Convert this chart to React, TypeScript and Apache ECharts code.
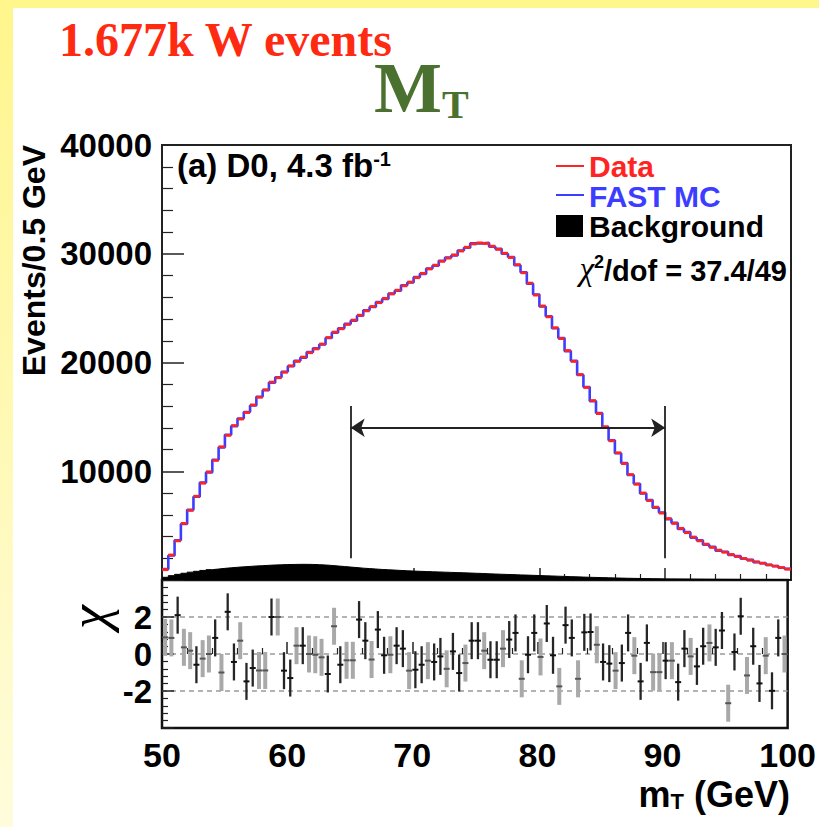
import React, { useEffect, useRef } from "react";
import * as echarts from "echarts";

// ---------- data ----------
const MASS_MIN = 50;
const MASS_MAX = 100;
const BIN_WIDTH = 0.5;

const xTickValues = [50, 60, 70, 80, 90, 100];
const eventsTickLabels = [10000, 20000, 30000, 40000];
const chiTickLabels = [-2, 0, 2];

// Data (red), events per 0.5 GeV bin, 50 -> 100 GeV
const dataCounts = [
  950, 2300, 3600, 5200, 6400, 7700, 8900, 9950, 11000, 12250,
  13300, 14200, 14800, 15400, 16100, 16800, 17500, 18200, 18600, 19100,
  19700, 20100, 20500, 20900, 21250, 21700, 22300, 22800, 23100, 23500,
  23900, 24350, 24750, 25150, 25500, 25900, 26300, 26650, 27050, 27400,
  27800, 28200, 28600, 28950, 29300, 29600, 29900, 30250, 30600, 30900,
  31000, 30950, 30700, 30400, 30050, 29650, 29000, 28250, 27300, 26200,
  25200, 24200, 23200, 22200, 21100, 20100, 18900, 17700, 16500, 15300,
  14100, 12800, 11700, 10700, 9700, 8800, 8000, 7300, 6700, 6150,
  5650, 5200, 4750, 4350, 3950, 3600, 3300, 3000, 2750, 2550,
  2350, 2150, 1980, 1820, 1670, 1530, 1400, 1270, 1150, 1000,
];

// FAST MC (blue)
const fastMcCounts = [
  1000, 2250, 3650, 5150, 6450, 7650, 8950, 9900, 11050, 12200,
  13350, 14150, 14850, 15450, 16050, 16850, 17450, 18150, 18650, 19150,
  19650, 20150, 20450, 20950, 21300, 21650, 22250, 22750, 23150, 23550,
  23850, 24300, 24800, 25100, 25550, 25850, 26350, 26600, 27100, 27350,
  27850, 28150, 28650, 28900, 29350, 29650, 29850, 30300, 30550, 30950,
  30950, 31000, 30650, 30450, 30000, 29700, 28950, 28300, 27250, 26250,
  25150, 24250, 23150, 22250, 21050, 20150, 18850, 17750, 16450, 15350,
  14050, 12850, 11650, 10750, 9650, 8850, 7950, 7350, 6650, 6200,
  5600, 5250, 4700, 4400, 3900, 3650, 3250, 3050, 2700, 2600,
  2300, 2200, 1950, 1850, 1640, 1560, 1380, 1290, 1130, 1020,
];

// Background (black filled)
const backgroundCounts = [
  250, 400, 520, 620, 720, 800, 880, 950, 1010, 1070,
  1120, 1170, 1210, 1250, 1290, 1320, 1350, 1380, 1400, 1420,
  1430, 1440, 1440, 1430, 1410, 1380, 1340, 1290, 1240, 1190,
  1140, 1090, 1050, 1010, 970, 940, 910, 880, 850, 820,
  800, 780, 760, 740, 720, 700, 680, 660, 640, 620,
  600, 570, 550, 530, 510, 490, 470, 450, 430, 410,
  390, 370, 350, 330, 310, 290, 270, 250, 235, 220,
  205, 190, 175, 160, 150, 140, 130, 120, 110, 100,
  95, 90, 85, 80, 75, 70, 66, 62, 58, 55,
  52, 49, 46, 43, 40, 38, 36, 34, 32, 30,
];

// chi per bin
const chiValues = [
  0.9, 0.87, 2.1, 0.36, 0.18, -0.58, -0.25, 0, 0.87, -1.0,
  2.28, -0.43, 0.72, -1.48, -0.76, -0.89, -0.89, 2.0, 2.0, -0.9,
  -1.3, 0.45, 0.45, 0, -0.04, -0.18, -1.08, 1.5, -0.58, -0.34,
  -0.34, 1.86, 0.72, -0.3, 1.32, -0.07, -0.04, 0.45, 0.29, -0.9,
  -0.85, -0.58, -0.36, -0.43, -0.13, -0.8, 0.14, -1.03, -0.49, 0.72,
  0.72, 0.18, -0.31, -0.31, 0.29, 0.78, 1.14, -1.34, -0.04, 1.14,
  -0.16, 1.65, -0.07, -1.75, 1.56, 0.87, -1.34, 1.17, 1.19, 0.5,
  -0.43, -0.52, -0.9, -0.49, 1.14, -0.09, -1.48, 0.6, -0.98, -0.98,
  -0.36, -0.36, -1.52, 0.29, -0.13, -0.67, 0.42, 0.6, 0.36, 1.27,
  -2.66, 0.11, 2.04, -1.16, 0.42, -1.59, -0.09, -1.99, 0.87, 0,
];

// 1 = grey error bar, 0 = black error bar
const chiGrey = [
  1, 1, 0, 1, 1, 0, 1, 1, 0, 1,
  0, 0, 1, 0, 0, 1, 1, 0, 1, 0,
  0, 1, 0, 1, 1, 1, 0, 1, 0, 1,
  1, 0, 0, 1, 0, 0, 1, 0, 0, 1,
  0, 0, 1, 0, 0, 1, 0, 0, 1, 0,
  0, 1, 0, 0, 1, 0, 0, 1, 0, 0,
  1, 0, 0, 1, 0, 0, 1, 0, 0, 1,
  0, 0, 1, 0, 0, 1, 0, 0, 1, 1,
  0, 1, 0, 0, 1, 0, 0, 1, 0, 0,
  1, 0, 0, 1, 0, 0, 1, 0, 0, 1,
];

const fitWindow = [65, 90];
const fitMarkerSpan = [2000, 16000];
const fitArrowLevel = 14000;

// ---------- helpers ----------
const SANS = "'Liberation Sans', Arial, Helvetica, sans-serif";
const SERIF = "'Liberation Serif', 'Times New Roman', serif";
const binLo = (i: number) => MASS_MIN + i * BIN_WIDTH;
const stepPoints = (vals: number[]) =>
  vals.flatMap((v, i) => [
    [binLo(i), v],
    [binLo(i) + BIN_WIDTH, v],
  ]);

export default function App() {
  const ref = useRef<HTMLDivElement>(null);

  useEffect(() => {
    if (!ref.current) return;
    const chart = echarts.init(ref.current, undefined, { renderer: "svg" });

    const GL = 162, GW = 629;
    const labelStyle = {
      fontFamily: SANS,
      fontWeight: "bold" as const,
      fontSize: 33,
      color: "#000",
    };
    const legendText = (text: string, y: number, fill: string) => ({
      type: "text", x: 589, y,
      style: {
        text, fontFamily: SANS, fontWeight: "bold", fontSize: 30, lineHeight: 28, fill,
        verticalAlign: "middle", textVerticalAlign: "middle",
      },
    });

    const option: any = {
      animation: false,
      backgroundColor: "transparent",
      grid: [
        { left: GL, top: 145, width: GW, height: 435, show: true, borderColor: "#222", borderWidth: 2, backgroundColor: "transparent" },
        { left: GL, top: 580, width: GW, height: 148, show: true, borderColor: "#111", borderWidth: 2.5, backgroundColor: "transparent" },
      ],
      xAxis: [
        {
          type: "value", gridIndex: 0, min: MASS_MIN, max: MASS_MAX, interval: 10,
          axisLine: { show: false },
          axisLabel: { show: false },
          axisTick: { inside: true, length: 12, lineStyle: { color: "#222", width: 1.5 } },
          minorTick: { show: true, splitNumber: 5, length: 6, lineStyle: { color: "#222", width: 1.2 } },
          splitLine: { show: false },
        },
        {
          type: "value", gridIndex: 1, min: MASS_MIN, max: MASS_MAX, interval: 10,
          axisLine: { show: false },
          axisLabel: { ...labelStyle, fontSize: 34, margin: 10, formatter: (v: number) => (xTickValues.includes(v) ? String(v) : "") },
          axisTick: { inside: true, length: 12, lineStyle: { color: "#222", width: 1.5 } },
          minorTick: { show: true, splitNumber: 5, length: 6, lineStyle: { color: "#222", width: 1.2 } },
          splitLine: { show: false },
        },
      ],
      yAxis: [
        {
          type: "value", gridIndex: 0, min: 0, max: 40000, interval: 10000,
          axisLine: { show: false },
          axisLabel: { ...labelStyle, margin: 10, formatter: (v: number) => (eventsTickLabels.includes(v) ? String(v) : "") },
          axisTick: { inside: true, length: 22, lineStyle: { color: "#222", width: 1.5 } },
          minorTick: { show: true, splitNumber: 5, length: 11, lineStyle: { color: "#222", width: 1.2 } },
          splitLine: { show: false },
        },
        {
          type: "value", gridIndex: 1, min: -4, max: 4, interval: 2,
          axisLine: { show: false },
          axisLabel: { ...labelStyle, margin: 10, formatter: (v: number) => (chiTickLabels.includes(v) ? String(v) : "") },
          axisTick: { inside: true, length: 12, lineStyle: { color: "#222", width: 1.5 } },
          minorTick: { show: true, splitNumber: 5, length: 6, lineStyle: { color: "#222", width: 1.2 } },
          splitLine: { show: true, showMinLine: false, showMaxLine: false, lineStyle: { color: "#9a9a9a", width: 1.5, type: [5, 4] } },
        },
      ],
      series: [
        {
          name: "Background",
          type: "line",
          xAxisIndex: 0, yAxisIndex: 0,
          data: stepPoints(backgroundCounts),
          symbol: "none",
          lineStyle: { color: "#000", width: 1 },
          areaStyle: { color: "#000", opacity: 1 },
          z: 2,
          silent: true,
        },
        {
          name: "FAST MC",
          type: "line",
          xAxisIndex: 0, yAxisIndex: 0,
          data: stepPoints(fastMcCounts),
          symbol: "none",
          lineStyle: { color: "#3d3dff", width: 2.6 },
          z: 3,
          silent: true,
          markLine: {
            silent: true,
            symbol: ["none", "none"],
            symbolSize: 14,
            label: { show: false },
            lineStyle: { color: "#222", width: 1.8, type: "solid" },
            data: [
              [{ coord: [fitWindow[0], fitMarkerSpan[0]] }, { coord: [fitWindow[0], fitMarkerSpan[1]] }],
              [{ coord: [fitWindow[1], fitMarkerSpan[0]] }, { coord: [fitWindow[1], fitMarkerSpan[1]] }],
              [
                { coord: [fitWindow[0], fitArrowLevel], symbol: "arrow" },
                { coord: [fitWindow[1], fitArrowLevel], symbol: "arrow" },
              ],
            ],
          },
        },
        {
          name: "Data",
          type: "custom",
          xAxisIndex: 0, yAxisIndex: 0,
          data: dataCounts.map((v, i) => [binLo(i), binLo(i) + BIN_WIDTH, v]),
          encode: { x: [0, 1], y: 2 },
          z: 4,
          silent: true,
          renderItem: (_p: any, api: any) => {
            const a = api.coord([api.value(0), api.value(2)]);
            const b = api.coord([api.value(1), api.value(2)]);
            return {
              type: "line",
              shape: { x1: a[0], y1: a[1], x2: b[0], y2: b[1] },
              style: { stroke: "#ff2424", lineWidth: 2.8 },
            };
          },
        },
        {
          name: "chi",
          type: "custom",
          xAxisIndex: 1, yAxisIndex: 1,
          data: chiValues.map((c, i) => [binLo(i) + BIN_WIDTH / 2, c, chiGrey[i]]),
          encode: { x: 0, y: 1 },
          clip: true,
          silent: true,
          renderItem: (_p: any, api: any) => {
            const x = api.value(0);
            const c = api.value(1);
            const grey = api.value(2) === 1;
            const top = api.coord([x, c + 1]);
            const bot = api.coord([x, c - 1]);
            const mid = api.coord([x, c]);
            const half = 3;
            return {
              type: "group",
              children: [
                {
                  type: "line",
                  shape: { x1: top[0], y1: top[1], x2: bot[0], y2: bot[1] },
                  style: { stroke: grey ? "#a9a9a9" : "#262626", lineWidth: grey ? 4 : 2.3 },
                },
                {
                  type: "line",
                  shape: { x1: mid[0] - half, y1: mid[1], x2: mid[0] + half, y2: mid[1] },
                  style: { stroke: grey ? "#555" : "#111", lineWidth: 2 },
                },
              ],
            };
          },
        },
      ],
      graphic: [
        // title
        {
          type: "text", left: 59, top: 15,
          style: { text: "1.677k W events", fontFamily: SERIF, fontWeight: "bold", fontSize: 48, fill: "#ff2a12" },
        },
        {
          type: "text", x: 374, y: 124,
          style: {
            text: "{m|M}{t|T}",
            align: "left", textAlign: "left", verticalAlign: "bottom", textVerticalAlign: "bottom",
            rich: {
              m: { fontFamily: SERIF, fontWeight: "bold", fontSize: 72, fill: "#4b7130", color: "#4b7130", verticalAlign: "bottom" },
              t: { fontFamily: SERIF, fontWeight: "bold", fontSize: 40, fill: "#4b7130", color: "#4b7130", verticalAlign: "bottom" },
            },
          },
        },
        // panel label
        {
          type: "text", x: 177, y: 149,
          style: {
            text: "{a|(a) D0, 4.3 fb}{s|-1}",
            align: "left", textAlign: "left", verticalAlign: "top", textVerticalAlign: "top",
            rich: {
              a: { fontFamily: SANS, fontWeight: "bold", fontSize: 33, color: "#000", verticalAlign: "bottom" },
              s: { fontFamily: SANS, fontWeight: "bold", fontSize: 20, color: "#000", verticalAlign: "top" },
            },
          },
        },
        // legend
        { type: "line", shape: { x1: 556, y1: 166, x2: 584, y2: 166 }, style: { stroke: "#ff2424", lineWidth: 2 } },
        legendText("Data", 166, "#ff2424"),
        { type: "line", shape: { x1: 556, y1: 195, x2: 584, y2: 195 }, style: { stroke: "#3d3dff", lineWidth: 2 } },
        legendText("FAST MC", 196, "#3d3dff"),
        { type: "rect", shape: { x: 556, y: 215, width: 27, height: 22 }, style: { fill: "#000" } },
        legendText("Background", 226, "#000"),
        {
          type: "text", x: 787, y: 269,
          style: {
            text: "{c|χ}{s|2}{a|/dof = 37.4/49}",
            align: "right", textAlign: "right", verticalAlign: "middle", textVerticalAlign: "middle",
            rich: {
              c: { fontFamily: SERIF, fontStyle: "italic", fontSize: 33, color: "#000", verticalAlign: "bottom" },
              s: { fontFamily: SANS, fontWeight: "bold", fontSize: 18, color: "#000", verticalAlign: "top" },
              a: { fontFamily: SANS, fontWeight: "bold", fontSize: 29, color: "#000", verticalAlign: "bottom" },
            },
          },
        },
        // axis titles
        {
          type: "text", x: 34, y: 145, rotation: Math.PI / 2,
          style: { text: "Events/0.5 GeV", fontFamily: SANS, fontWeight: "bold", fontSize: 32, fill: "#000", align: "right", textAlign: "right", verticalAlign: "middle", textVerticalAlign: "middle" },
        },
        {
          type: "text", x: 89, y: 617, rotation: Math.PI / 2,
          style: { text: "χ", fontFamily: SERIF, fontStyle: "italic", fontSize: 54, fill: "#000", align: "center", textAlign: "center", verticalAlign: "middle", textVerticalAlign: "middle" },
        },
        {
          type: "text", x: 790, y: 812,
          style: {
            text: "{m|m}{t|T}{a| (GeV)}",
            align: "right", textAlign: "right", verticalAlign: "bottom", textVerticalAlign: "bottom",
            rich: {
              m: { fontFamily: SANS, fontWeight: "bold", fontSize: 36, color: "#000", verticalAlign: "top" },
              t: { fontFamily: SANS, fontWeight: "bold", fontSize: 22, color: "#000", verticalAlign: "bottom" },
              a: { fontFamily: SANS, fontWeight: "bold", fontSize: 36, color: "#000", verticalAlign: "top" },
            },
          },
        },
      ],
    };

    chart.setOption(option);
    return () => chart.dispose();
  }, []);

  return (
    <div
      style={{
        position: "fixed", left: 0, top: 0, width: 819, height: 827, overflow: "hidden",
        background: "linear-gradient(180deg, #fff68c 0%, #fff9b8 55%, #fffcdc 100%)",
      }}
    >
      <div style={{ position: "absolute", left: 13, top: 8, right: 0, bottom: 0, background: "#fff" }} />
      <div ref={ref} style={{ position: "absolute", left: 0, top: 0, width: 819, height: 827 }} />
    </div>
  );
}
